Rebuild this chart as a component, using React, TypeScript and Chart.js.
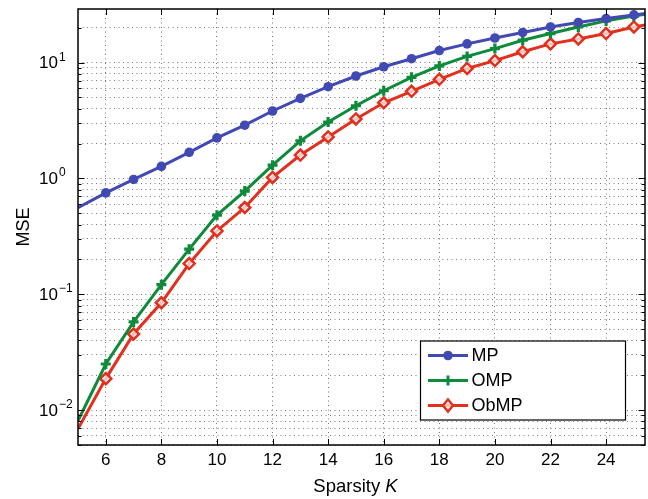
import React, { useEffect, useRef } from "react";
import { Chart, registerables } from "chart.js";

Chart.register(...registerables);

// ---- data ----
const K = [5, 6, 7, 8, 9, 10, 11, 12, 13, 14, 15, 16, 17, 18, 19, 20, 21, 22, 23, 24, 25, 26];
const MP = [0.56, 0.75, 0.98, 1.27, 1.68, 2.24, 2.88, 3.82, 4.91, 6.19, 7.66, 9.2, 10.8, 12.7, 14.5, 16.3, 18.2, 20.3, 22.2, 24.0, 25.8, 27.6];
const OMP = [0.0081, 0.025, 0.0577, 0.121, 0.245, 0.482, 0.778, 1.3, 2.11, 3.07, 4.24, 5.71, 7.46, 9.35, 11.3, 13.2, 15.6, 17.8, 20.3, 22.9, 25.2, 27.6];
const ObMP = [0.0069, 0.0187, 0.0454, 0.0845, 0.184, 0.352, 0.561, 1.02, 1.59, 2.28, 3.26, 4.5, 5.65, 7.17, 8.9, 10.4, 12.4, 14.5, 16.0, 17.8, 20.3, 22.4];

const X_TICKS = [6, 8, 10, 12, 14, 16, 18, 20, 22, 24];
const Y_MAJOR_EXP = [-2, -1, 0, 1];
const X_MIN = 5;
const X_MAX = 25.4;
const Y_MIN = 0.005;
const Y_MAX = 29;
const MARKED_FROM = 6;
const MARKED_TO = 25;

const SERIES_NAMES = ["MP", "OMP", "ObMP"];
const COLORS = ["#4149B2", "#0E8A3B", "#E2301F"];

const FONT = "'Liberation Sans', Arial, Helvetica, sans-serif";

function yMinorTicks(): number[] {
  const out: number[] = [];
  for (let e = -3; e <= 1; e++) {
    for (let m = 1; m <= 9; m++) {
      const v = m * Math.pow(10, e);
      if (v >= Y_MIN - 1e-12 && v <= Y_MAX) out.push(Number(v.toPrecision(6)));
    }
  }
  return out;
}

function drawMarker(ctx: CanvasRenderingContext2D, kind: number, x: number, y: number, color: string) {
  ctx.save();
  ctx.strokeStyle = color;
  ctx.fillStyle = color;
  if (kind === 0) {
    ctx.beginPath();
    ctx.arc(x, y, 4.8, 0, Math.PI * 2);
    ctx.fill();
  } else if (kind === 1) {
    ctx.lineWidth = 3;
    ctx.beginPath();
    ctx.moveTo(x - 5, y);
    ctx.lineTo(x + 5, y);
    ctx.moveTo(x, y - 5);
    ctx.lineTo(x, y + 5);
    ctx.stroke();
  } else {
    ctx.lineWidth = 2.5;
    ctx.fillStyle = "rgba(255,255,255,0.7)";
    ctx.beginPath();
    ctx.moveTo(x, y - 6);
    ctx.lineTo(x + 5, y);
    ctx.lineTo(x, y + 6);
    ctx.lineTo(x - 5, y);
    ctx.closePath();
    ctx.fill();
    ctx.stroke();
  }
  ctx.restore();
}

const decorPlugin = {
  id: "decor",
  afterDraw(chart: any) {
    const { ctx, chartArea } = chart;
    const { left, right, top, bottom } = chartArea;
    const xs = chart.scales.x;
    const ys = chart.scales.y;
    ctx.save();

    // inward tick marks
    ctx.strokeStyle = "#000";
    ctx.lineWidth = 1;
    ctx.beginPath();
    for (const v of X_TICKS) {
      const px = Math.round(xs.getPixelForValue(v)) + 0.5;
      ctx.moveTo(px, bottom);
      ctx.lineTo(px, bottom - 6);
      ctx.moveTo(px, top);
      ctx.lineTo(px, top + 6);
    }
    for (const v of yMinorTicks()) {
      const py = Math.round(ys.getPixelForValue(v)) + 0.5;
      const major = Math.abs(Math.log10(v) - Math.round(Math.log10(v))) < 1e-6;
      const len = major ? 6.5 : 3.5;
      ctx.moveTo(left, py);
      ctx.lineTo(left + len, py);
      ctx.moveTo(right, py);
      ctx.lineTo(right - len, py);
    }
    ctx.stroke();

    // frame
    ctx.lineWidth = 1.5;
    ctx.strokeRect(left, top, right - left, bottom - top);

    // x tick labels
    ctx.fillStyle = "#000";
    ctx.font = `17px ${FONT}`;
    ctx.textAlign = "center";
    ctx.textBaseline = "middle";
    for (const v of X_TICKS) {
      ctx.fillText(String(v), xs.getPixelForValue(v), bottom + 15);
    }

    // y tick labels with superscript exponents
    for (const e of Y_MAJOR_EXP) {
      const py = ys.getPixelForValue(Math.pow(10, e));
      ctx.font = `17px ${FONT}`;
      ctx.textAlign = "right";
      ctx.textBaseline = "middle";
      ctx.fillText("10", left - 20, py + 1);
      ctx.font = `12px ${FONT}`;
      ctx.textAlign = "left";
      ctx.textBaseline = "alphabetic";
      ctx.fillText(e < 0 ? `\u2212${-e}` : String(e), left - 19, py - 2);
    }

    // x axis title: "Sparsity K" with italic K
    const cx = (left + right) / 2 - 6;
    const titleY = bottom + 47;
    ctx.textBaseline = "alphabetic";
    ctx.textAlign = "left";
    ctx.font = `18.5px ${FONT}`;
    const w1 = ctx.measureText("Sparsity ").width;
    ctx.font = `italic 18.5px ${FONT}`;
    const w2 = ctx.measureText("K").width;
    const startX = cx - (w1 + w2) / 2;
    ctx.font = `18.5px ${FONT}`;
    ctx.fillText("Sparsity ", startX, titleY);
    ctx.font = `italic 18.5px ${FONT}`;
    ctx.fillText("K", startX + w1, titleY);

    // y axis title
    ctx.save();
    ctx.translate(24, (top + bottom) / 2);
    ctx.rotate(-Math.PI / 2);
    ctx.font = `18px ${FONT}`;
    ctx.textAlign = "center";
    ctx.textBaseline = "middle";
    ctx.fillText("MSE", 0, 0);
    ctx.restore();

    // legend
    const bx1 = right - 19.5;
    const by1 = bottom - 25;
    const bx0 = left + 342.5;
    const by0 = top + 332;
    ctx.fillStyle = "#fff";
    ctx.fillRect(bx0, by0, bx1 - bx0, by1 - by0);
    ctx.strokeStyle = "#000";
    ctx.lineWidth = 1.2;
    ctx.strokeRect(bx0, by0, bx1 - bx0, by1 - by0);
    const rowH = 25;
    for (let i = 0; i < SERIES_NAMES.length; i++) {
      const ry = by0 + 14.5 + i * rowH;
      ctx.strokeStyle = COLORS[i];
      ctx.lineWidth = 3;
      ctx.beginPath();
      ctx.moveTo(bx0 + 7.5, ry);
      ctx.lineTo(bx0 + 47.5, ry);
      ctx.stroke();
      drawMarker(ctx, i, bx0 + 27.5, ry, COLORS[i]);
      ctx.fillStyle = "#000";
      ctx.font = `18px ${FONT}`;
      ctx.textAlign = "left";
      ctx.textBaseline = "middle";
      ctx.fillText(SERIES_NAMES[i], bx0 + 51, ry + 1);
    }
    ctx.restore();
  },
};

export default function App() {
  const canvasRef = useRef<HTMLCanvasElement | null>(null);

  useEffect(() => {
    const canvas = canvasRef.current;
    if (!canvas) return;
    const radius = (r: number) => (c: any) => {
      const k = K[c.dataIndex];
      return k < MARKED_FROM || k > MARKED_TO ? 0 : r;
    };
    const mk = (vals: number[]) => K.map((k, i) => ({ x: k, y: vals[i] }));
    const chart = new Chart(canvas, {
      type: "line",
      data: {
        datasets: [
          {
            label: SERIES_NAMES[0],
            data: mk(MP),
            borderColor: COLORS[0],
            backgroundColor: COLORS[0],
            borderWidth: 3,
            pointStyle: "circle",
            pointRadius: radius(4.8),
            pointBorderWidth: 0,
            pointBackgroundColor: COLORS[0],
            clip: 0,
          },
          {
            label: SERIES_NAMES[1],
            data: mk(OMP),
            borderColor: COLORS[1],
            backgroundColor: COLORS[1],
            borderWidth: 3,
            pointStyle: "cross",
            pointRadius: radius(5),
            pointBorderWidth: 3.2,
            pointBorderColor: COLORS[1],
            clip: 0,
          },
          {
            label: SERIES_NAMES[2],
            data: mk(ObMP),
            borderColor: COLORS[2],
            backgroundColor: COLORS[2],
            borderWidth: 3,
            pointStyle: "rectRot",
            pointRadius: radius(5.5),
            pointBorderWidth: 2.5,
            pointBorderColor: COLORS[2],
            pointBackgroundColor: "rgba(255,255,255,0.7)",
            clip: 0,
          },
        ],
      },
      options: {
        animation: false,
        responsive: false,
        events: [],
        layout: { padding: { left: 78, right: 3, top: 9, bottom: 54 } },
        plugins: { legend: { display: false }, tooltip: { enabled: false }, title: { display: false } },
        elements: { line: { tension: 0 } },
        scales: {
          x: {
            type: "linear",
            min: X_MIN,
            max: X_MAX,
            ticks: { display: false },
            grid: { color: "#7a7a7a", lineWidth: 1, drawTicks: false },
            border: { display: false, dash: [1, 3.5] },
            afterBuildTicks: (s: any) => {
              s.ticks = X_TICKS.map((v) => ({ value: v }));
            },
            afterFit: (s: any) => {
              s.height = 0;
            },
          },
          y: {
            type: "logarithmic",
            min: Y_MIN,
            max: Y_MAX,
            ticks: { display: false },
            grid: { color: "#7a7a7a", lineWidth: 1, drawTicks: false },
            border: { display: false, dash: [1, 3.5] },
            afterBuildTicks: (s: any) => {
              s.ticks = yMinorTicks().map((v) => ({ value: v }));
            },
            afterFit: (s: any) => {
              s.width = 0;
            },
          },
        },
      } as any,
      plugins: [decorPlugin],
    });
    return () => chart.destroy();
  }, []);

  return (
    <div style={{ position: "absolute", left: 0, top: 0, width: 648, height: 499, background: "#fff" }}>
      <canvas ref={canvasRef} width={648} height={499} style={{ display: "block" }} />
    </div>
  );
}
